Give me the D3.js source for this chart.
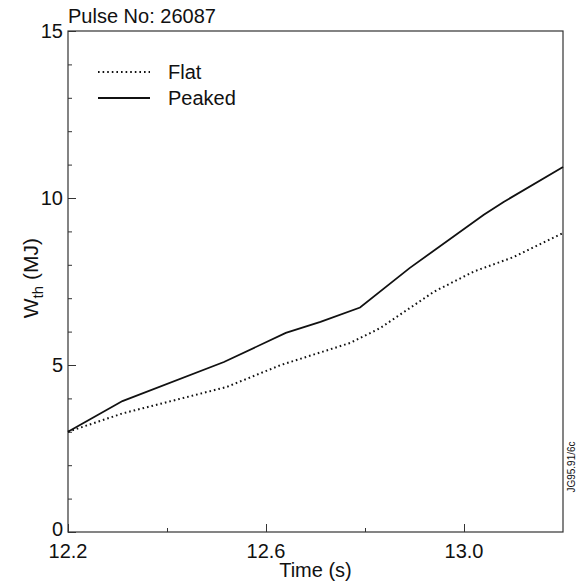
<!DOCTYPE html>
<html>
<head>
<meta charset="utf-8">
<script src="https://cdn.jsdelivr.net/npm/d3@7"></script>
<style>
  body { margin: 0; background: #fff; }
  text { font-family: "Liberation Sans", Arial, sans-serif; fill: #111; }
</style>
</head>
<body>
<div id="chart"></div>
<script>
// data
const flatTime = [12.2, 12.31, 12.52, 12.63, 12.77, 12.83, 12.94, 13.02, 13.1, 13.2];
const flatW = [3.0, 3.55, 4.34, 5.0, 5.66, 6.1, 7.2, 7.8, 8.23, 8.95];
const peakedTime = [12.2, 12.31, 12.515, 12.64, 12.71, 12.79, 12.89, 13.04, 13.08, 13.2];
const peakedW = [3.0, 3.92, 5.09, 5.96, 6.29, 6.72, 7.9, 9.5, 9.88, 10.93];
const xMajorTicks = [12.2, 12.6, 13.0];
const xMinorTicks = [12.4, 12.8];
const yMajorTicks = [0, 5, 10, 15];
const yMinorTicks = [1, 2, 3, 4, 6, 7, 8, 9, 11, 12, 13, 14];

const svgWidth = 580;
const svgHeight = 583;
const margin = { top: 31, right: 17, bottom: 51, left: 68 };
const width = svgWidth - margin.left - margin.right;
const height = svgHeight - margin.top - margin.bottom;

const svg = d3.select('#chart')
    .append('svg')
    .attr('width', svgWidth)
    .attr('height', svgHeight);

const g = svg.append('g')
    .attr('transform', `translate(${margin.left}, ${margin.top})`);

const xScale = d3.scaleLinear().domain([12.2, 13.2]).range([0, width]);
const yScale = d3.scaleLinear().domain([0, 15]).range([height, 0]);

// frame
g.append('rect')
    .attr('width', width)
    .attr('height', height)
    .attr('fill', 'none')
    .attr('stroke', '#333')
    .attr('stroke-width', 1.2);

// inward ticks on left and bottom
const yAxis = d3.axisRight(yScale).tickValues(yMajorTicks).tickSize(8).tickFormat('');
const yAxisMinor = d3.axisRight(yScale).tickValues(yMinorTicks).tickSize(4).tickFormat('');
const xAxis = d3.axisTop(xScale).tickValues(xMajorTicks).tickSize(8).tickFormat('');
const xAxisMinor = d3.axisTop(xScale).tickValues(xMinorTicks).tickSize(4).tickFormat('');

[yAxis, yAxisMinor].forEach(ax => {
    g.append('g').call(ax).call(s => s.select('.domain').remove())
        .selectAll('line').attr('stroke', '#333');
});
[xAxis, xAxisMinor].forEach(ax => {
    g.append('g').attr('transform', `translate(0, ${height})`)
        .call(ax).call(s => s.select('.domain').remove())
        .selectAll('line').attr('stroke', '#333');
});

// tick labels
g.selectAll('.ylab')
    .data(yMajorTicks)
    .enter()
    .append('text')
    .attr('x', -5)
    .attr('y', d => d === 0 ? yScale(d) + 4 : yScale(d) + 7)
    .attr('text-anchor', 'end')
    .attr('font-size', 20)
    .text(d => d);

g.selectAll('.xlab')
    .data(xMajorTicks)
    .enter()
    .append('text')
    .attr('x', d => xScale(d))
    .attr('y', height + 26)
    .attr('text-anchor', 'middle')
    .attr('font-size', 20)
    .text(d => d.toFixed(1));

// axis titles
g.append('text')
    .attr('x', xScale(12.7))
    .attr('y', height + 45)
    .attr('text-anchor', 'middle')
    .attr('font-size', 20)
    .text('Time (s)');

const yTitle = g.append('text')
    .attr('transform', `translate(-30, ${yScale(7.6)}) rotate(-90)`)
    .attr('text-anchor', 'middle')
    .attr('font-size', 21);
yTitle.append('tspan').text('W');
yTitle.append('tspan').attr('font-size', 15).attr('dy', 5).text('th');
yTitle.append('tspan').attr('dy', -5).text(' (MJ)');

// title
svg.append('text')
    .attr('x', 68)
    .attr('y', 23)
    .attr('font-size', 20)
    .text('Pulse No: 26087');

// figure code on the right edge
svg.append('text')
    .attr('transform', 'translate(575, 467) rotate(-90)')
    .attr('text-anchor', 'middle')
    .attr('font-size', 10)
    .text('JG95.91/6c');

// lines
const line = d3.line()
    .x(d => xScale(d[0]))
    .y(d => yScale(d[1]));

const flatData = d3.zip(flatTime, flatW);
const peakedData = d3.zip(peakedTime, peakedW);

g.append('path')
    .datum(flatData)
    .attr('d', line)
    .attr('fill', 'none')
    .attr('stroke', '#111')
    .attr('stroke-width', 2)
    .attr('stroke-dasharray', '1.6,3');

g.append('path')
    .datum(peakedData)
    .attr('d', line)
    .attr('fill', 'none')
    .attr('stroke', '#111')
    .attr('stroke-width', 1.8);

// legend
const legend = [
    { name: 'Flat', dash: '1.6,3', y: 41 },
    { name: 'Peaked', dash: null, y: 67 }
];
legend.forEach(d => {
    g.append('line')
        .attr('x1', 30).attr('x2', 82)
        .attr('y1', d.y).attr('y2', d.y)
        .attr('stroke', '#111')
        .attr('stroke-width', d.dash ? 2 : 1.8)
        .attr('stroke-dasharray', d.dash);
    g.append('text')
        .attr('x', 100)
        .attr('y', d.y + 7)
        .attr('font-size', 20)
        .text(d.name);
});
</script>
</body>
</html>
